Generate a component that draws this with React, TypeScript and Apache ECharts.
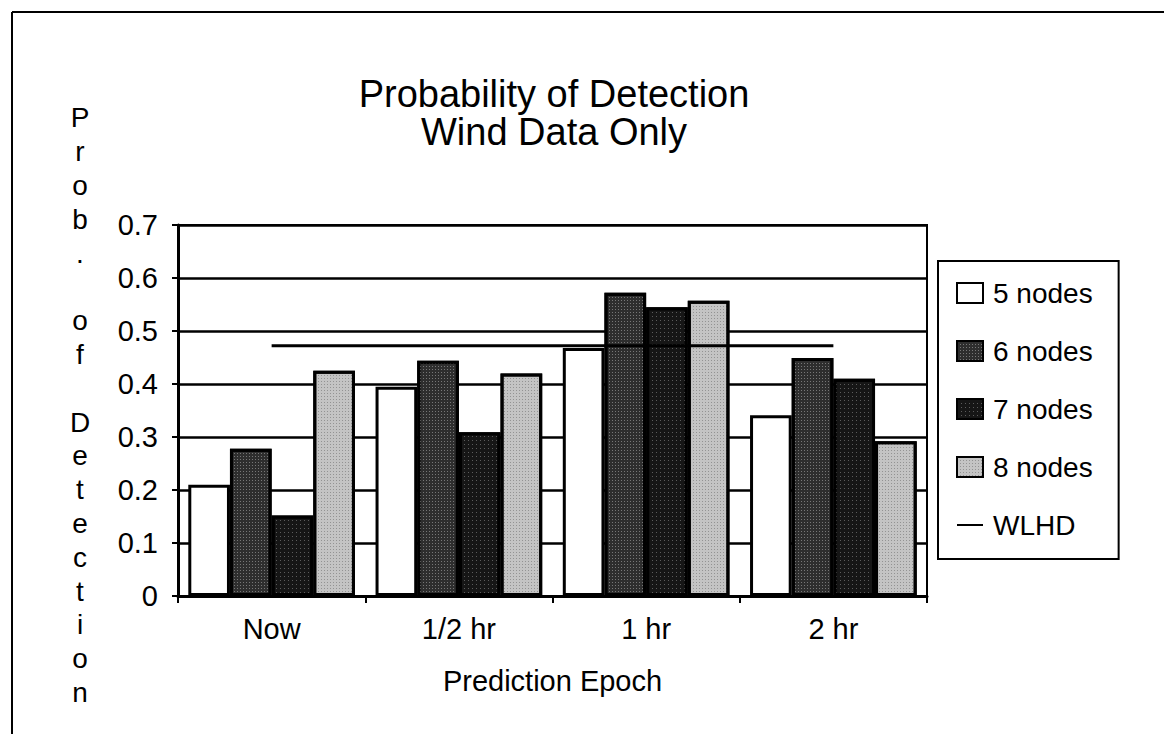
import React, { useEffect, useRef } from "react";
import * as echarts from "echarts";

const categories = ["Now", "1/2 hr", "1 hr", "2 hr"];
const nodes5 = [0.21, 0.395, 0.468, 0.341];
const nodes6 = [0.278, 0.444, 0.572, 0.449];
const nodes7 = [0.152, 0.309, 0.545, 0.41];
const nodes8 = [0.425, 0.42, 0.557, 0.292];
const wlhd = [0.472, 0.472, 0.472, 0.472];
const yTicks = { min: 0, max: 0.7, interval: 0.1 };
const titleLines = ["Probability of Detection", "Wind Data Only"];
const yLabel = "Prob. of Detection";
const xLabel = "Prediction Epoch";

const FONT = "'Liberation Sans', Arial, Helvetica, sans-serif";

export default function App() {
  const ref = useRef<HTMLDivElement>(null);
  useEffect(() => {
    if (!ref.current) return;
    const chart = echarts.init(ref.current, undefined, { renderer: "svg" });
    const barBase = (name: string, data: number[], color: string, decal?: any) => ({
      name,
      type: "bar",
      data,
      barGap: "0%",
      barCategoryGap: "11%",
      itemStyle: { color, borderColor: "#000", borderWidth: 3, ...(decal ? { decal } : {}) },
      emphasis: { disabled: true },
    });
    chart.setOption({
      animation: false,
      backgroundColor: "#fff",
      textStyle: { fontFamily: FONT, color: "#000" },
      title: {
        text: titleLines.join("\n"),
        left: 549,
        top: 70,
        textAlign: "center",
        textStyle: { fontFamily: FONT, fontSize: 38, fontWeight: "normal", color: "#000", lineHeight: 38 },
      },
      grid: {
        left: 178,
        right: 237,
        top: 225,
        bottom: 138,
        show: true,
        borderColor: "#000",
        borderWidth: 2,
        backgroundColor: "transparent",
      },
      legend: {
        orient: "vertical",
        left: 938,
        top: 261,
        padding: [18, 26, 20, 18],
        itemGap: 30,
        itemWidth: 26,
        itemHeight: 20,
        borderColor: "#000",
        borderWidth: 2,
        textStyle: { fontFamily: FONT, fontSize: 28, color: "#000", padding: [0, 0, 0, 5] },
        data: [
          { name: "5 nodes", icon: "rect" },
          { name: "6 nodes", icon: "rect" },
          { name: "7 nodes", icon: "rect" },
          { name: "8 nodes", icon: "rect" },
          { name: "WLHD", itemStyle: { color: "rgba(0,0,0,0)", borderWidth: 0, opacity: 0 } },
        ],
      },
      xAxis: {
        type: "category",
        data: categories,
        name: xLabel,
        nameLocation: "middle",
        nameGap: 70,
        nameTextStyle: { fontFamily: FONT, fontSize: 29, color: "#000" },
        axisLine: { lineStyle: { color: "#000", width: 3 } },
        axisTick: { show: true, length: 7, lineStyle: { color: "#000", width: 2 } },
        axisLabel: { fontFamily: FONT, fontSize: 29, color: "#000", margin: 18 },
        splitLine: { show: false },
      },
      yAxis: {
        type: "value",
        min: yTicks.min,
        max: yTicks.max,
        interval: yTicks.interval,
        axisLine: { show: true, lineStyle: { color: "#000", width: 3 } },
        axisTick: { show: true, length: 6, lineStyle: { color: "#000", width: 2 } },
        axisLabel: { fontFamily: FONT, fontSize: 29, color: "#000", margin: 20 },
        splitLine: { show: true, lineStyle: { color: "#000", width: 2.5 } },
      },
      graphic: [
        { type: "line", shape: { x1: 12, y1: 12, x2: 1164, y2: 12 }, style: { stroke: "#000", lineWidth: 2 } },
        { type: "line", shape: { x1: 12, y1: 12, x2: 12, y2: 734 }, style: { stroke: "#000", lineWidth: 2 } },
        {
          type: "text",
          x: 80,
          y: 101,
          style: {
            text: yLabel.split("").join("\n"),
            font: `28px ${FONT}`,
            fill: "#000",
            textAlign: "center",
            textVerticalAlign: "top",
            lineHeight: 33.8,
          },
        },
      ],
      series: [
        barBase("5 nodes", nodes5, "#ffffff"),
        barBase("6 nodes", nodes6, "#2e2e2e", {
          symbol: "rect",
          symbolSize: 1,
          dashArrayX: [1, 2],
          dashArrayY: [1, 2],
          color: "rgba(255,255,255,0.35)",
        }),
        barBase("7 nodes", nodes7, "#161616", {
          symbol: "rect",
          symbolSize: 1,
          dashArrayX: [1, 3],
          dashArrayY: [1, 3],
          color: "rgba(255,255,255,0.3)",
        }),
        barBase("8 nodes", nodes8, "#c4c4c4", {
          symbol: "rect",
          symbolSize: 1,
          dashArrayX: [1, 2],
          dashArrayY: [1, 2],
          color: "rgba(0,0,0,0.25)",
        }),
        {
          name: "WLHD",
          type: "line",
          data: wlhd,
          symbol: "none",
          showSymbol: false,
          lineStyle: { color: "#000", width: 3 },
          itemStyle: { color: "#000" },
          z: 5,
          emphasis: { disabled: true },
        },
      ],
    });
    return () => chart.dispose();
  }, []);
  return (
    <div
      ref={ref}
      style={{ position: "absolute", left: 0, top: 0, width: 1164, height: 734, background: "#fff" }}
    />
  );
}
